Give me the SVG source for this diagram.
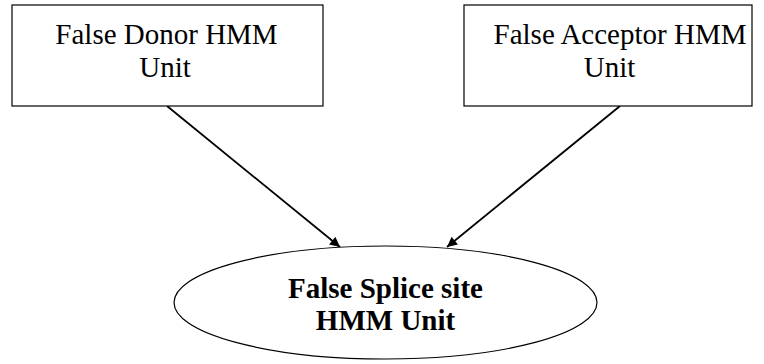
<svg xmlns="http://www.w3.org/2000/svg" width="764" height="364" viewBox="0 0 764 364">
  <style>
    .box { fill: #fff; stroke: #000; stroke-width: 1.2; }
    .lbl { font-family: "Liberation Serif", "Times New Roman", serif; font-size: 29px; fill: #000; text-anchor: middle; }
    .bold { font-weight: bold; }
    .edge { stroke: #000; stroke-width: 1.8; fill: none; marker-end: url(#arrow); }
  </style>
  <defs>
    <marker id="arrow" viewBox="0 0 10 10" refX="10" refY="5" markerWidth="11" markerHeight="10" markerUnits="userSpaceOnUse" orient="auto">
      <path d="M0,0 L10,5 L0,10 z" fill="#000"/>
    </marker>
  </defs>
  <rect width="764" height="364" fill="#fff"/>

  <g id="connectors">
    <line class="edge" x1="167" y1="106" x2="340" y2="247"/>
    <line class="edge" x1="620" y1="106" x2="447" y2="247"/>
  </g>

  <g id="false-donor">
    <rect class="box" x="12" y="5" width="311" height="101"/>
    <text class="lbl" x="166.5" y="44">False Donor HMM</text>
    <text class="lbl" x="165" y="77">Unit</text>
  </g>

  <g id="false-acceptor">
    <rect class="box" x="464" y="5" width="288" height="101"/>
    <text class="lbl" x="620" y="44">False Acceptor HMM</text>
    <text class="lbl" x="609.5" y="77">Unit</text>
  </g>

  <g id="false-splice-site">
    <ellipse class="box" cx="385.5" cy="302.5" rx="211.5" ry="56.5"/>
    <text class="lbl bold" x="385.5" y="298">False Splice site</text>
    <text class="lbl bold" x="385.5" y="330">HMM Unit</text>
  </g>
</svg>
